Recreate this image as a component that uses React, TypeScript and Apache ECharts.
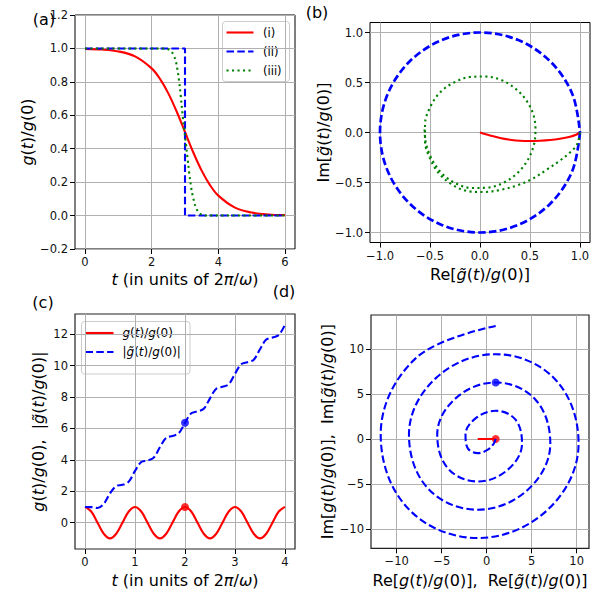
import React, { useEffect, useRef } from 'react';
import * as echarts from 'echarts';

const FONT = "'DejaVu Sans', sans-serif";
const RED = '#ff0000';
const BLUE = '#0000ff';
const GREEN = '#008000';

// ---------- panel (a): g(t)/g(0) vs t ----------
const tA_i = [0, 0.5, 1, 1.5, 2, 2.25, 2.5, 2.75, 3, 3.25, 3.5, 3.75, 4, 4.5, 5, 5.5, 6];
const gA_i = [0.9975, 0.9933, 0.982, 0.9526, 0.8808, 0.8176, 0.7311, 0.6225, 0.5, 0.3775, 0.2689, 0.1824, 0.1192, 0.0474, 0.018, 0.0067, 0.0025];
const tA_ii = [0, 3, 3, 6];
const gA_ii = [1, 1, 0, 0];
const tA_iii = [0, 1.2, 2.4, 2.5, 2.6, 2.7, 2.75, 2.8, 2.85, 2.9, 2.95, 3.0, 3.05, 3.1, 3.15, 3.2, 3.3, 3.4, 3.5, 3.6, 4.8, 6];
const gA_iii = [1, 1, 0.999, 0.995, 0.98, 0.94, 0.9, 0.84, 0.76, 0.66, 0.56, 0.48, 0.39, 0.3, 0.22, 0.15, 0.065, 0.02, 0.006, 0.001, 0, 0];

// ---------- panel (b): Im vs Re of g~(t)/g(0) ----------
const reB_i = [1, 0.96, 0.9, 0.8, 0.7, 0.6, 0.5, 0.4, 0.3, 0.2, 0.1, 0.05, 0];
const imB_i = [0, -0.022, -0.042, -0.062, -0.075, -0.082, -0.085, -0.083, -0.072, -0.055, -0.03, -0.015, 0];
const reB_ii = [1, 0.924, 0.707, 0.383, 0, -0.383, -0.707, -0.924, -1, -0.924, -0.707, -0.383, 0, 0.383, 0.707, 0.924, 1];
const imB_ii = [0, -0.383, -0.707, -0.924, -1, -0.924, -0.707, -0.383, 0, 0.383, 0.707, 0.924, 1, 0.924, 0.707, 0.383, 0];
const reB_iii = [1, 0.97, 0.9, 0.8, 0.67, 0.53, 0.37, 0.2, 0.03, -0.13, -0.28, -0.41, -0.5, -0.55, -0.55, -0.5, -0.4, -0.26, -0.1, 0.05, 0.2, 0.34, 0.45, 0.53, 0.555, 0.54, 0.48, 0.38, 0.24, 0.08, -0.08, -0.24, -0.38, -0.48, -0.54, -0.555];
const imB_iii = [0, -0.12, -0.2, -0.28, -0.37, -0.46, -0.53, -0.575, -0.595, -0.585, -0.52, -0.41, -0.26, -0.09, 0.08, 0.25, 0.4, 0.5, 0.555, 0.56, 0.53, 0.45, 0.34, 0.19, 0.03, -0.12, -0.27, -0.4, -0.5, -0.55, -0.555, -0.51, -0.41, -0.27, -0.11, 0.03];

// ---------- panel (c): g(t)/g(0) and |g~(t)/g(0)| vs t ----------
const tC = [0, 0.125, 0.25, 0.375, 0.5, 0.625, 0.75, 0.875, 1, 1.125, 1.25, 1.375, 1.5, 1.625, 1.75, 1.875, 2, 2.125, 2.25, 2.375, 2.5, 2.625, 2.75, 2.875, 3, 3.125, 3.25, 3.375, 3.5, 3.625, 3.75, 3.875, 4];
const gC = [1, 0.707, 0, -0.707, -1, -0.707, 0, 0.707, 1, 0.707, 0, -0.707, -1, -0.707, 0, 0.707, 1, 0.707, 0, -0.707, -1, -0.707, 0, 0.707, 1, 0.707, 0, -0.707, -1, -0.707, 0, 0.707, 1];
const absC = [1, 0.988, 0.931, 1.193, 1.862, 2.337, 2.408, 2.609, 3.297, 3.858, 3.959, 4.139, 4.817, 5.408, 5.521, 5.69, 6.362, 6.967, 7.087, 7.25, 7.918, 8.53, 8.654, 8.814, 9.478, 10.095, 10.222, 10.38, 11.041, 11.662, 11.792, 11.948, 12.606];
const dotC = { t: 2, g: 1, abs: 6.362 };

// ---------- panel (d): Im vs Re, g and g~ ----------
const reD_g = [-1, 1];
const imD_g = [0, 0];
const reD = [1, 0.985, 0.785, 0.126, -1, -2.095, -2.356, -1.237, 1, 3.206, 3.927, 2.347, -1, -4.317, -5.498, -3.458, 1, 5.428, 7.069, 4.569, -1, -6.538, -8.639, -5.68, 1, 7.649, 10.21, 6.79, -1, -8.76, -11.781, -7.901, 1];
const imD = [0, -0.076, -0.5, -1.187, -1.571, -1.035, 0.5, 2.297, 3.142, 2.146, -0.5, -3.408, -4.712, -3.256, 0.5, 4.519, 6.283, 4.367, -0.5, -5.63, -7.854, -5.478, 0.5, 6.74, 9.425, 6.588, -0.5, -7.851, -10.996, -7.699, 0.5, 8.962, 12.566];
const dotD_g = [1, 0];
const dotD_gt = [1, 6.283];

// ---------- ticks ----------
const ticksAx = [0, 2, 4, 6];
const ticksAy = [-0.2, 0, 0.2, 0.4, 0.6, 0.8, 1.0, 1.2];
const ticksB = [-1, -0.5, 0, 0.5, 1];
const ticksCx = [0, 1, 2, 3, 4];
const ticksCy = [0, 2, 4, 6, 8, 10, 12];
const ticksD = [-10, -5, 0, 5, 10];

const rangeAx = [-0.3, 6.3];
const rangeAy = [-0.2, 1.2];
const rangeB = [-1.1, 1.1];
const rangeCx = [-0.2, 4.2];
const rangeCy = [-1.68, 13.29];
const rangeDx = [-12.86, 11.37];
const rangeDy = [-12.14, 13.78];

const zip = (xs: number[], ys: number[]) => xs.map((x, i) => [x, ys[i]]);
const fmt1 = (v: number) => v.toFixed(1).replace('-', '\u2212');
const fmt0 = (v: number) => String(Math.round(v)).replace('-', '\u2212');

const G = 'g\u0303';
const nameStyle = {
  fontFamily: FONT,
  fontSize: 16,
  color: '#000',
  rich: { i: { fontFamily: FONT, fontSize: 16, fontStyle: 'italic', color: '#000' } },
};

function axis(gridIndex: number, range: number[], ticks: number[], fmt: (v: number) => string, name: string, nameGap: number) {
  return {
    type: 'value',
    gridIndex,
    min: range[0],
    max: range[1],
    name,
    nameLocation: 'middle',
    nameGap,
    nameTextStyle: nameStyle,
    axisLine: { show: false, onZero: false },
    axisTick: { show: true, inside: false, length: 5, customValues: ticks, lineStyle: { color: '#000', width: 1 } },
    axisLabel: { show: true, customValues: ticks, formatter: fmt, margin: 7, fontFamily: FONT, fontSize: 11.5, color: '#111' },
    splitLine: { show: true, lineStyle: { color: '#b0b0b0', width: 1 } },
  };
}

function line(name: string, x: number, y: number, data: number[][], color: string, width: number, type: any, smooth: number) {
  return {
    type: 'line',
    name,
    xAxisIndex: x,
    yAxisIndex: y,
    data,
    symbol: 'none',
    smooth,
    lineStyle: { color, width, type, cap: 'butt' },
    silent: true,
  };
}

function dot(x: number, y: number, p: number[], color: string) {
  return { type: 'scatter', xAxisIndex: x, yAxisIndex: y, data: [p], symbol: 'circle', symbolSize: 8, itemStyle: { color }, silent: true };
}

const DASH = [7.5, 3.3];
const DOT = [2.1, 3.4];

function txt(x: number, y: number, text: string, size: number, align = 'center', vAlign = 'middle') {
  return {
    type: 'text',
    x,
    y,
    style: {
      text,
      fill: '#000',
      font: `${size}px ${FONT}`,
      align,
      verticalAlign: vAlign,
      rich: { i: { fontFamily: FONT, fontSize: size, fontStyle: 'italic', fill: '#000' } },
    },
  };
}

function legendLine(x1: number, x2: number, y: number, color: string, dash: any) {
  return {
    type: 'line',
    shape: { x1, y1: y, x2, y2: y },
    style: { stroke: color, lineWidth: 2.1, lineDash: dash },
  };
}

const option = {
  animation: false,
  backgroundColor: '#fff',
  grid: [
    { left: 75, top: 15, width: 220, height: 234, show: true, borderColor: '#000', borderWidth: 1, backgroundColor: 'transparent' },
    { left: 370, top: 22.5, width: 220, height: 220, show: true, borderColor: '#000', borderWidth: 1, backgroundColor: 'transparent' },
    { left: 75, top: 314, width: 220, height: 235, show: true, borderColor: '#222', borderWidth: 1.2, backgroundColor: 'transparent' },
    { left: 371, top: 315, width: 218, height: 233.3, show: true, borderColor: '#222', borderWidth: 1.2, backgroundColor: 'transparent' },
  ],
  xAxis: [
    axis(0, rangeAx, ticksAx, fmt0, '{i|t} (in units of 2{i|\u03c0}/{i|\u03c9})', 22),
    axis(1, rangeB, ticksB, fmt1, `Re[{i|${G}}({i|t})/{i|g}(0)]`, 24),
    axis(2, rangeCx, ticksCx, fmt0, '{i|t} (in units of 2{i|\u03c0}/{i|\u03c9})', 23),
    axis(3, rangeDx, ticksD, fmt0, `Re[{i|g}({i|t})/{i|g}(0)],  Re[{i|${G}}({i|t})/{i|g}(0)]`, 24),
  ],
  yAxis: [
    axis(0, rangeAy, ticksAy, fmt1, '{i|g}({i|t})/{i|g}(0)', 40),
    axis(1, rangeB, ticksB, fmt1, `Im[{i|${G}}({i|t})/{i|g}(0)]`, 39),
    axis(2, rangeCy, ticksCy, fmt0, `{i|g}({i|t})/{i|g}(0),  |{i|${G}}({i|t})/{i|g}(0)|`, 29),
    axis(3, rangeDy, ticksD, fmt0, `Im[{i|g}({i|t})/{i|g}(0)],  Im[{i|${G}}({i|t})/{i|g}(0)]`, 35),
  ],
  series: [
    line('(i)', 0, 0, zip(tA_i, gA_i), RED, 2.1, 'solid', 0.35),
    line('(ii)', 0, 0, zip(tA_ii, gA_ii), BLUE, 2.1, DASH, 0),
    line('(iii)', 0, 0, zip(tA_iii, gA_iii), GREEN, 2.1, DOT, 0.3),

    line('b-i', 1, 1, zip(reB_i, imB_i), RED, 2.1, 'solid', 0.35),
    line('b-ii', 1, 1, zip(reB_ii, imB_ii), BLUE, 2.7, DASH, 0.343),
    line('b-iii', 1, 1, zip(reB_iii, imB_iii), GREEN, 2.1, DOT, 0.35),

    line('c-g', 2, 2, zip(tC, gC), RED, 2.1, 'solid', 0.35),
    line('c-abs', 2, 2, zip(tC, absC), BLUE, 2.1, DASH, 0.35),
    dot(2, 2, [dotC.t, dotC.g], RED),
    dot(2, 2, [dotC.t, dotC.abs], BLUE),

    line('d-g', 3, 3, zip(reD_g, imD_g), RED, 2.1, 'solid', 0),
    line('d-gt', 3, 3, zip(reD, imD), BLUE, 2.1, DASH, 0.375),
    dot(3, 3, dotD_g, RED),
    dot(3, 3, dotD_gt, BLUE),
  ],
  graphic: [
    txt(44, 19, '(a)', 16),
    txt(317, 12, '(b)', 16),
    txt(43, 302, '(c)', 16),
    txt(284, 291, '(d)', 16),
    // legend (a)
    {
      type: 'rect',
      shape: { x: 222.5, y: 21.5, width: 67, height: 60, r: 3 },
      style: { fill: 'rgba(255,255,255,0.8)', stroke: '#cccccc', lineWidth: 1 },
    },
    legendLine(226.5, 253.5, 32.5, RED, null),
    legendLine(226.5, 253.5, 51.5, BLUE, DASH),
    legendLine(226.5, 253.5, 70.5, GREEN, DOT),
    txt(263, 32.5, '(i)', 11.5, 'left'),
    txt(263, 51.5, '(ii)', 11.5, 'left'),
    txt(263, 70.5, '(iii)', 11.5, 'left'),
    // legend (c)
    {
      type: 'rect',
      shape: { x: 81.5, y: 321.5, width: 108.5, height: 52.5, r: 3 },
      style: { fill: 'rgba(255,255,255,0.8)', stroke: '#cccccc', lineWidth: 1 },
    },
    legendLine(85.5, 113.5, 333, RED, null),
    legendLine(85.5, 113.5, 352, BLUE, DASH),
    txt(122.5, 333, '{i|g}({i|t})/{i|g}(0)', 12, 'left'),
    txt(122.5, 352, `|{i|${G}}({i|t})/{i|g}(0)|`, 12, 'left'),
  ],
};

export default function App() {
  const ref = useRef<HTMLDivElement>(null);
  useEffect(() => {
    const chart = echarts.init(ref.current as HTMLDivElement, null, { renderer: 'svg' });
    chart.setOption(option as any);
    return () => chart.dispose();
  }, []);
  return <div ref={ref} style={{ position: 'fixed', left: 0, top: 0, width: 602, height: 591 }} />;
}
